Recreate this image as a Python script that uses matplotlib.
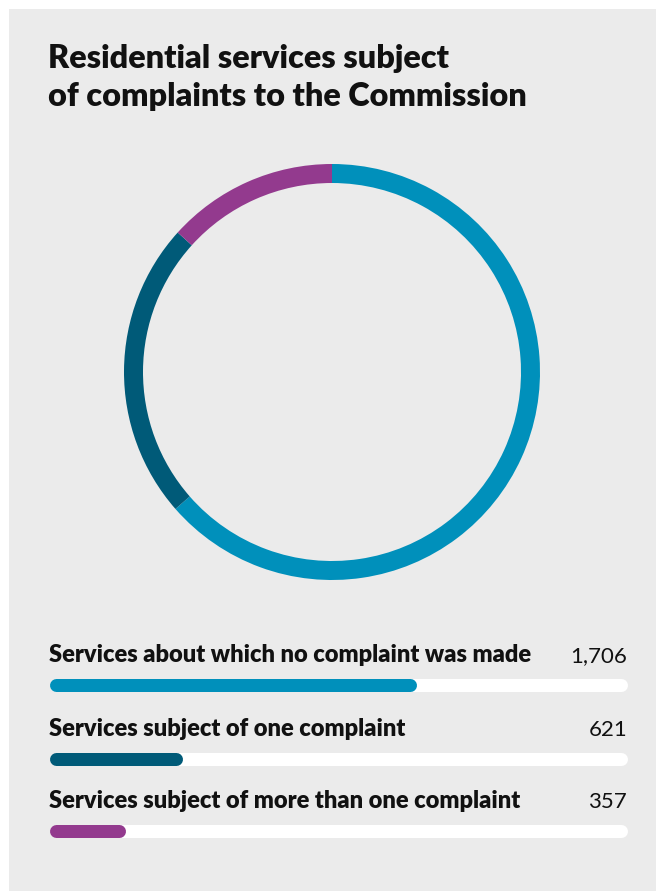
import matplotlib
matplotlib.use('Agg')
import matplotlib.pyplot as plt
from matplotlib.patches import Rectangle

# Datos: servicios residenciales y quejas
categorias = ['Services about which no complaint was made',
              'Services subject of one complaint',
              'Services subject of more than one complaint']
valores = [1706, 621, 357]
etiquetas_valor = ['1,706', '621', '357']
colores = ['#0090bb', '#005a78', '#933a8e']
titulo = ['Residential services subject', 'of complaints to the Commission']

W, H = 656, 891
fondo = '#ebebeb'
total = sum(valores)

fig = plt.figure(figsize=(W / 100, H / 100), dpi=100, facecolor='white')

# Capa base en pixeles para el panel gris y los textos
base = fig.add_axes([0, 0, 1, 1])
base.set_xlim(0, W)
base.set_ylim(H, 0)
base.axis('off')
base.add_patch(Rectangle((9, 9), W - 9, H - 9, facecolor=fondo, edgecolor='none'))

for linea, yb in zip(titulo, [68, 106]):
    base.text(48, yb, linea, fontsize=23.3, fontweight='heavy', family='Lato',
              color='#111111', va='baseline')

# Anillo
cx, cy, r = 332, 372, 208
ax_pie = fig.add_axes([(cx - r) / W, (H - cy - r) / H, 2 * r / W, 2 * r / H])
ax_pie.pie(valores, colors=colores, startangle=90, counterclock=False,
           radius=1, wedgeprops=dict(width=19 / r, edgecolor='none'))
ax_pie.set_xlim(-1, 1)
ax_pie.set_ylim(-1, 1)
ax_pie.axis('off')

# Barras de progreso (extremos redondeados dentro del largo)
x0, x1 = 49, 627
alto = 13
filas_y = [685, 759, 831]
lw_pt = alto * 72 / 100
cap = total * (alto / 2) / (x1 - x0)
for cat, val, lab, col, yb in zip(categorias, valores, etiquetas_valor, colores, filas_y):
    ax_b = fig.add_axes([x0 / W, (H - yb - 1) / H, (x1 - x0) / W, 2 / H])
    ax_b.set_xlim(0, total)
    ax_b.set_ylim(-1, 1)
    ax_b.axis('off')
    ax_b.plot([cap, total - cap], [0, 0], color='white', lw=lw_pt,
              solid_capstyle='round', clip_on=False)
    ax_b.plot([cap, val - cap], [0, 0], color=col, lw=lw_pt,
              solid_capstyle='round', clip_on=False)
    base.text(x0, yb - 23, cat, fontsize=17, fontweight='heavy', family='Lato',
              color='#111111', va='baseline')
    base.text(x1, yb - 23, lab, fontsize=16, family='Lato',
              color='#111111', va='baseline', ha='right')

fig.savefig('out.png', dpi=100, facecolor='white')
